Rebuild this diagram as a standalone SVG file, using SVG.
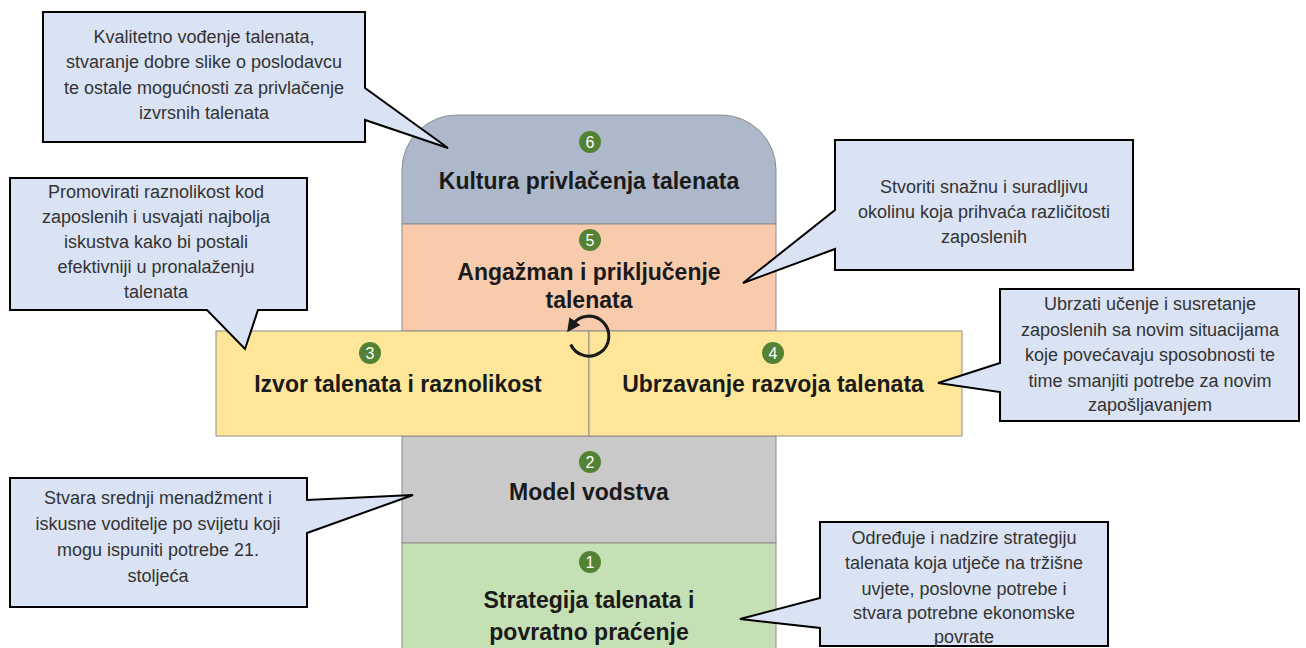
<svg xmlns="http://www.w3.org/2000/svg" width="1306" height="648" viewBox="0 0 1306 648">
<defs>
<style>
.sec{stroke:#8c8c8c;stroke-width:1}
.title{font-family:"Liberation Sans",Arial,sans-serif;font-weight:bold;font-size:23px;fill:#1a1a1a;text-anchor:middle}
.badge circle{fill:#548235}
.badge text{font-family:"Liberation Sans",Arial,sans-serif;font-size:16px;fill:#ffffff;text-anchor:middle}
.call path{fill:#dae3f3;stroke:#000000;stroke-width:2;stroke-linejoin:miter}
.call text{font-family:"Liberation Sans",Arial,sans-serif;font-size:18px;fill:#333333;text-anchor:middle}
</style>
<marker id="ah" viewBox="0 0 10 10" refX="3" refY="5" markerWidth="4.5" markerHeight="4.5" orient="auto" markerUnits="strokeWidth">
<path d="M0,0 L10,5 L0,10 Z" fill="#1a1a1a"/>
</marker>
</defs>
<rect width="1306" height="648" fill="#ffffff"/>

<g id="n6">
<path class="sec" d="M402,224 V170 A55,55 0 0 1 457,115 H721 A55,55 0 0 1 776,170 V224 Z" fill="#adb9ca"/>
<g class="badge"><circle cx="590" cy="142" r="11"/><text x="590" y="148">6</text></g>
<text class="title" x="589" y="189">Kultura privlačenja talenata</text>
</g>

<g id="n5">
<rect class="sec" x="402" y="224" width="374" height="107" fill="#f8cbad"/>
<g class="badge"><circle cx="590" cy="240" r="11"/><text x="590" y="246">5</text></g>
<text class="title" x="589" y="280">Angažman i priključenje</text>
<text class="title" x="589" y="308">talenata</text>
</g>

<g id="n2">
<rect class="sec" x="402" y="436" width="374" height="107" fill="#c9c9c9"/>
<g class="badge"><circle cx="590" cy="462" r="11"/><text x="590" y="468">2</text></g>
<text class="title" x="589" y="500">Model vodstva</text>
</g>

<g id="n1">
<rect class="sec" x="402" y="543" width="374" height="110" fill="#c5e0b4"/>
<g class="badge"><circle cx="590" cy="562" r="11"/><text x="590" y="568">1</text></g>
<text class="title" x="589" y="608">Strategija talenata i</text>
<text class="title" x="589" y="640">povratno praćenje</text>
</g>

<g id="n3">
<rect class="sec" x="216" y="331" width="373" height="105" fill="#ffe699"/>
<g class="badge"><circle cx="370" cy="353" r="11"/><text x="370" y="359">3</text></g>
<text class="title" x="398" y="392">Izvor talenata i raznolikost</text>
</g>

<g id="n4">
<rect class="sec" x="589" y="331" width="373" height="105" fill="#ffe699"/>
<g class="badge"><circle cx="773" cy="353" r="11"/><text x="773" y="359">4</text></g>
<text class="title" x="773" y="392">Ubrzavanje razvoja talenata</text>
</g>

<g id="connectors">
<path d="M570.7,344.5 A20,20 0 1 0 572.6,324.5" fill="none" stroke="#1a1a1a" stroke-width="3" marker-end="url(#ah)"/>
</g>

<g id="c6" class="call">
<path d="M43,12 H365 V88 L448,148 L365,120 V142 H43 Z"/>
<text x="204" y="43">Kvalitetno vođenje talenata,</text>
<text x="204" y="68">stvaranje dobre slike o poslodavcu</text>
<text x="204" y="94">te ostale mogućnosti za privlačenje</text>
<text x="204" y="119">izvrsnih talenata</text>
</g>

<g id="c3" class="call">
<path d="M10,178 H307 V310 H258 L245,349 L207,310 H10 Z"/>
<text x="156" y="198">Promovirati raznolikost kod</text>
<text x="156" y="223">zaposlenih i usvajati najbolja</text>
<text x="156" y="248">iskustva kako bi postali</text>
<text x="156" y="273">efektivniji u pronalaženju</text>
<text x="156" y="298">talenata</text>
</g>

<g id="c5" class="call">
<path d="M835,140 H1133 V270 H835 V249 L743,283 L835,210 Z"/>
<text x="984" y="193">Stvoriti snažnu i suradljivu</text>
<text x="984" y="218">okolinu koja prihvaća različitosti</text>
<text x="984" y="243">zaposlenih</text>
</g>

<g id="c4" class="call">
<path d="M1000,289 H1299 V421 H1000 V392 L938,383 L1000,363 Z"/>
<text x="1150" y="310">Ubrzati učenje i susretanje</text>
<text x="1150" y="336">zaposlenih sa novim situacijama</text>
<text x="1150" y="361">koje povećavaju sposobnosti te</text>
<text x="1150" y="387">time smanjiti potrebe za novim</text>
<text x="1150" y="411">zapošljavanjem</text>
</g>

<g id="c2" class="call">
<path d="M10,478 H307 V500 L413,495 L307,533 V607 H10 Z"/>
<text x="158" y="504">Stvara srednji menadžment i</text>
<text x="158" y="530">iskusne voditelje po svijetu koji</text>
<text x="158" y="556">mogu ispuniti potrebe 21.</text>
<text x="158" y="582">stoljeća</text>
</g>

<g id="c1" class="call">
<path d="M820,522 H1108 V646 H820 V628 L740,619 L820,598 Z"/>
<text x="964" y="544">Određuje i nadzire strategiju</text>
<text x="964" y="569">talenata koja utječe na tržišne</text>
<text x="964" y="595">uvjete, poslovne potrebe i</text>
<text x="964" y="619">stvara potrebne ekonomske</text>
<text x="964" y="643">povrate</text>
</g>
</svg>
